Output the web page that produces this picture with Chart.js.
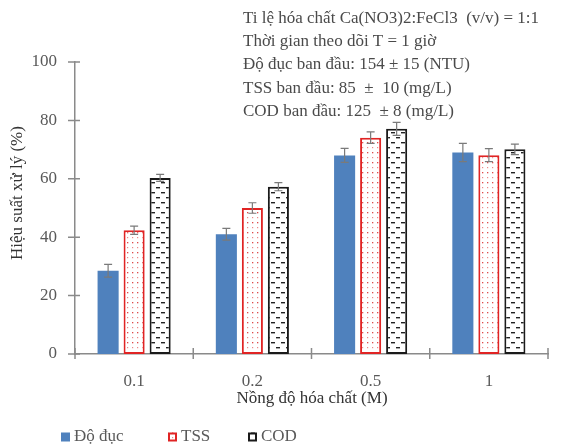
<!DOCTYPE html>
<html>
<head>
<meta charset="utf-8">
<script src="https://cdn.jsdelivr.net/npm/chart.js@4/dist/chart.umd.min.js"></script>
<style>
  html, body { margin: 0; padding: 0; background: #fff; }
  #wrap { width: 570px; height: 446px; position: relative; }
</style>
</head>
<body>
<div id="wrap"><canvas id="c"></canvas></div>
<script>
// Chemical concentration (M)
const categories = ['0.1', '0.2', '0.5', '1'];

// Removal efficiency (%) and standard deviations
const turbidity = [28.5, 41.0, 68.0, 69.0];
const turbidityErr = [2.2, 2.0, 2.4, 3.1];
const tss = [42.4, 50.0, 74.1, 68.1];
const tssErr = [1.4, 1.8, 2.0, 2.2];
const cod = [60.3, 57.3, 77.1, 70.1];
const codErr = [1.2, 1.4, 2.2, 1.8];

const yTicks = [0, 20, 40, 60, 80, 100];

const seriesNames = ['Độ đục', 'TSS', 'COD'];

const yTitle = 'Hiệu suất xử lý (%)';
const xTitle = 'Nồng độ hóa chất (M)';

const noteLines = [
  'Ti lệ hóa chất Ca(NO3)2:FeCl3  (v/v) = 1:1',
  'Thời gian theo dõi T = 1 giờ',
  'Độ đục ban đầu: 154 ± 15 (NTU)',
  'TSS ban đầu: 85  ±  10 (mg/L)',
  'COD ban đầu: 125  ± 8 (mg/L)'
];

const FONT = "'Liberation Serif', 'Times New Roman', serif";
const TICK_COLOR = '#595959';
const AXIS_COLOR = '#8a8a8a';
const LEGEND_X = [61, 168, 248];

// Fill patterns: red dots for TSS, dark dashes for COD
function makeDots() {
  const t = document.createElement('canvas');
  t.width = 5; t.height = 10;
  const g = t.getContext('2d');
  g.fillStyle = '#fff'; g.fillRect(0, 0, 5, 10);
  g.fillStyle = '#de4a4a'; g.fillRect(2, 2, 1.3, 1.3);
  g.fillStyle = '#ec8a8a'; g.fillRect(2, 7, 1.2, 1.2);
  return g.createPattern(t, 'repeat');
}
function makeDashes() {
  const t = document.createElement('canvas');
  t.width = 10; t.height = 10;
  const g = t.getContext('2d');
  g.fillStyle = '#fff'; g.fillRect(0, 0, 10, 10);
  g.fillStyle = '#222';
  g.fillRect(1, 2, 4, 1.4);
  g.fillRect(6, 7, 4, 1.4);
  return g.createPattern(t, 'repeat');
}

const errorSets = [turbidityErr, tssErr, codErr];

// Error bars drawn from each bar's value and deviation
const errorBars = {
  id: 'errorBars',
  afterDatasetsDraw(chart) {
    const ctx = chart.ctx;
    const y = chart.scales.y;
    ctx.save();
    ctx.strokeStyle = '#7a7a7a';
    ctx.lineWidth = 1.2;
    chart.data.datasets.forEach((ds, i) => {
      const meta = chart.getDatasetMeta(i);
      meta.data.forEach((bar, j) => {
        const v = ds.data[j], e = errorSets[i][j];
        const top = y.getPixelForValue(v + e);
        const bot = y.getPixelForValue(v - e);
        ctx.beginPath();
        ctx.moveTo(bar.x, top); ctx.lineTo(bar.x, bot);
        ctx.moveTo(bar.x - 4, top); ctx.lineTo(bar.x + 4, top);
        ctx.moveTo(bar.x - 4, bot); ctx.lineTo(bar.x + 4, bot);
        ctx.stroke();
      });
    });
    ctx.restore();
  }
};

// Tick marks crossing both axes
const crossTicks = {
  id: 'crossTicks',
  afterDraw(chart) {
    const ctx = chart.ctx;
    const x = chart.scales.x, y = chart.scales.y;
    const a = chart.chartArea;
    ctx.save();
    ctx.strokeStyle = AXIS_COLOR;
    ctx.lineWidth = 1.5;
    ctx.beginPath();
    y.ticks.forEach((t) => {
      const py = y.getPixelForValue(t.value);
      ctx.moveTo(a.left - 7, py); ctx.lineTo(a.left + 5, py);
    });
    const n = x.ticks.length;
    const w = (a.right - a.left) / n;
    for (let i = 0; i <= n; i++) {
      const px = a.left + i * w;
      ctx.moveTo(px, a.bottom - 6); ctx.lineTo(px, a.bottom + 5);
    }
    ctx.stroke();
    ctx.restore();
  }
};

// Axis titles, notes block and legend row
const annotations = {
  id: 'annotations',
  afterDraw(chart) {
    const ctx = chart.ctx;
    const a = chart.chartArea;
    ctx.save();
    ctx.font = '17px ' + FONT;

    // axis titles
    ctx.fillStyle = '#333';
    ctx.textAlign = 'center';
    ctx.textBaseline = 'middle';
    ctx.fillText(xTitle, (a.left + a.right) / 2 + 0.5, 399);
    ctx.save();
    ctx.translate(18, 193);
    ctx.rotate(-Math.PI / 2);
    ctx.fillText(yTitle, 0, 0);
    ctx.restore();

    // conditions text
    ctx.textAlign = 'left';
    ctx.textBaseline = 'alphabetic';
    ctx.fillStyle = '#4a4a4a';
    noteLines.forEach((s, i) => ctx.fillText(s, 243, 23 + i * 23.2));

    // legend
    ctx.textBaseline = 'middle';
    const cy = 437;
    chart.data.datasets.forEach((ds, i) => {
      const x = LEGEND_X[i];
      ctx.fillStyle = ds.backgroundColor;
      ctx.fillRect(x, cy - 4.5, 9, 9);
      if (i > 0) {
        ctx.strokeStyle = ds.borderColor;
        ctx.lineWidth = 2;
        ctx.strokeRect(x + 1, cy - 3.5, 7, 7);
      }
      ctx.fillStyle = TICK_COLOR;
      ctx.fillText(ds.label, x + 13, cy);
    });
    ctx.restore();
  }
};

new Chart(document.getElementById('c'), {
  type: 'bar',
  data: {
    labels: categories,
    datasets: [
      { label: seriesNames[0], data: turbidity, backgroundColor: '#4f81bd', borderWidth: 0 },
      { label: seriesNames[1], data: tss, backgroundColor: makeDots(), borderColor: '#e02424', borderWidth: 2, borderSkipped: false },
      { label: seriesNames[2], data: cod, backgroundColor: makeDashes(), borderColor: '#1a1a1a', borderWidth: 2, borderSkipped: false }
    ]
  },
  options: {
    responsive: true,
    maintainAspectRatio: false,
    animation: false,
    devicePixelRatio: 1,
    layout: { padding: { left: 0, right: 22, top: 62, bottom: 0 } },
    datasets: { bar: { categoryPercentage: 0.66, barPercentage: 0.81 } },
    plugins: { legend: { display: false }, tooltip: { enabled: false } },
    scales: {
      x: {
        grid: { display: false },
        border: { display: true, color: AXIS_COLOR, width: 1.5 },
        ticks: { color: TICK_COLOR, font: { family: FONT, size: 17 }, padding: 9 },
        afterFit(s) { s.height = 92; }
      },
      y: {
        min: 0, max: 100,
        afterBuildTicks(s) { s.ticks = yTicks.map(v => ({ value: v })); },
        grid: { display: false },
        border: { display: true, color: AXIS_COLOR, width: 1.5 },
        ticks: { color: TICK_COLOR, font: { family: FONT, size: 17 }, padding: 10 },
        afterFit(s) { s.width = 75; }
      }
    }
  },
  plugins: [errorBars, crossTicks, annotations]
});
</script>
</body>
</html>
